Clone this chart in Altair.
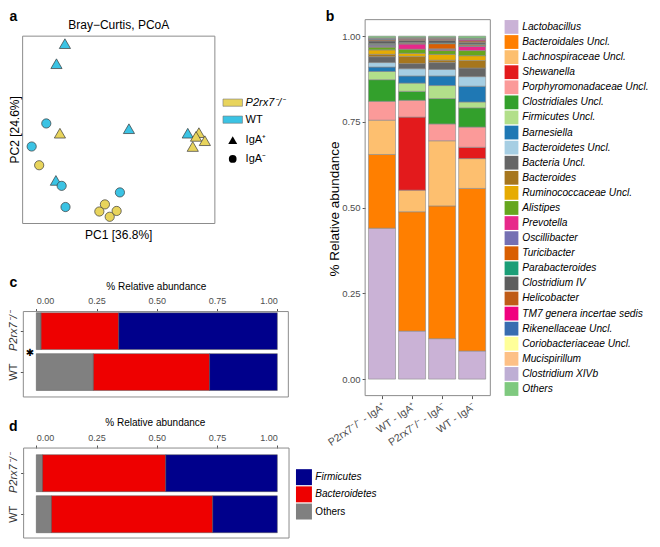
import altair as alt
import pandas as pd

# ---------------- data ----------------
# a: Bray-Curtis PCoA sample scores (rescaled to the panel extent, 0..1)
a_genotype = ["WT"] * 5 + ["P2rx7⁻/⁻"] * 5 + ["WT"] * 5 + ["P2rx7⁻/⁻"] * 5
a_fraction = ["IgA⁺"] * 10 + ["IgA⁻"] * 10
a_pc1 = [0.220, 0.176, 0.553, 0.859, 0.173,
         0.194, 0.917, 0.902, 0.948, 0.885,
         0.123, 0.047, 0.203, 0.223, 0.506,
         0.086, 0.428, 0.399, 0.489, 0.453]
a_pc2 = [0.960, 0.853, 0.506, 0.482, 0.230,
         0.482, 0.485, 0.465, 0.442, 0.411,
         0.534, 0.411, 0.201, 0.088, 0.166,
         0.311, 0.102, 0.064, 0.067, 0.036]
a_genotypes = ["P2rx7⁻/⁻", "WT"]
a_genotype_colors = ["#E8D45C", "#3BC3E4"]
a_fractions = ["IgA⁺", "IgA⁻"]

# b: genus-level relative abundance per group
b_groups = ["P2rx7⁻/⁻ - IgA⁺", "WT - IgA⁺", "P2rx7⁻/⁻ - IgA⁻", "WT - IgA⁻"]
b_taxa = ["Lactobacillus", "Bacteroidales Uncl.", "Lachnospiraceae Uncl.", "Shewanella",
          "Porphyromonadaceae Uncl.", "Clostridiales Uncl.", "Firmicutes Uncl.", "Barnesiella",
          "Bacteroidetes Uncl.", "Bacteria Uncl.", "Bacteroides", "Ruminococcaceae Uncl.",
          "Alistipes", "Prevotella", "Oscillibacter", "Turicibacter", "Parabacteroides",
          "Clostridium IV", "Helicobacter", "TM7 genera incertae sedis", "Rikenellaceae Uncl.",
          "Coriobacteriaceae Uncl.", "Mucispirillum", "Clostridium XIVb", "Others"]
b_colors = ["#CAB2D6", "#FF7F00", "#FDBF6F", "#E31A1C", "#FB9A99", "#33A02C", "#B2DF8A",
            "#1F78B4", "#A6CEE3", "#666666", "#A6761D", "#E6AB02", "#66A61E", "#E7298A",
            "#7570B3", "#D95F02", "#1B9E77", "#5E5E5E", "#BF5B17", "#F0027F", "#386CB0",
            "#FFFF99", "#FDC086", "#BEAED4", "#7FC97F"]
b_p2_pos = [0.440, 0.215, 0.100, 0.000, 0.055, 0.063, 0.024, 0.013, 0.013, 0.017, 0.007, 0.013,
            0.008, 0.002, 0.004, 0.002, 0.002, 0.008, 0.003, 0.001, 0.002, 0.001, 0.001, 0.001, 0.005]
b_wt_pos = [0.140, 0.348, 0.063, 0.213, 0.049, 0.026, 0.024, 0.021, 0.021, 0.015, 0.021, 0.009,
            0.012, 0.015, 0.002, 0.002, 0.001, 0.006, 0.003, 0.001, 0.001, 0.001, 0.001, 0.001, 0.004]
b_p2_neg = [0.118, 0.387, 0.190, 0.000, 0.049, 0.074, 0.038, 0.028, 0.019, 0.020, 0.007, 0.017,
            0.011, 0.003, 0.002, 0.015, 0.002, 0.008, 0.003, 0.001, 0.001, 0.001, 0.001, 0.001, 0.004]
b_wt_neg = [0.082, 0.474, 0.087, 0.033, 0.059, 0.056, 0.017, 0.046, 0.028, 0.025, 0.022, 0.014,
            0.015, 0.012, 0.002, 0.003, 0.002, 0.005, 0.004, 0.003, 0.002, 0.001, 0.001, 0.001, 0.006]
b_ticks = [0.0, 0.25, 0.5, 0.75, 1.0]

# c, d: phylum-level relative abundance
phyla = ["Others", "Bacteroidetes", "Firmicutes"]
phyla_colors = ["#808080", "#EE0000", "#00008B"]
phyla_legend = ["Firmicutes", "Bacteroidetes", "Others"]
cd_genotypes = ["P2rx7⁻/⁻", "WT"]
c_p2 = [0.020, 0.322, 0.658]
c_wt = [0.237, 0.482, 0.281]
d_p2 = [0.026, 0.511, 0.463]
d_wt = [0.063, 0.669, 0.268]
cd_ticks = [0.0, 0.25, 0.5, 0.75, 1.0]

# ---------------- layout helpers ----------------
FONT = "Liberation Sans"
W, H = 644, 531


def X(v):
    return round(v * W / 660, 2)


def Y(v):
    return round(v * H / 547, 2)


one = pd.DataFrame({"k": [0]})


def frame(x1, x2, y1, y2):
    return alt.Chart(one).mark_rect(fillOpacity=0, stroke="#8C8C8C", strokeWidth=1).encode(
        x=alt.value(X(x1)), x2=alt.value(X(x2)), y=alt.value(Y(y1)), y2=alt.value(Y(y2)))


def label(txt, x, y, size=11, weight="normal", angle=0, style="normal", font=FONT, color="black"):
    kw = dict(text=txt, fontSize=size, fontWeight=weight, fontStyle=style, align="center",
              baseline="middle", color=color, font=font)
    if angle:
        kw["angle"] = angle
    return alt.Chart(one).mark_text(**kw).encode(x=alt.value(X(x)), y=alt.value(Y(y)))


AX = dict(domain=False, grid=False, tickSize=3, tickColor="#555555", labelColor="#4D4D4D",
          labelFont=FONT, title=None, labelOverlap=False)

layers = []

# ---------------- panel a ----------------
df_a = pd.DataFrame({"genotype": a_genotype, "fraction": a_fraction, "pc1": a_pc1, "pc2": a_pc2})
layers.append(frame(15, 212, 29, 222))
layers.append(alt.Chart(df_a).mark_point(filled=True, opacity=1, stroke="#3A3A3A", strokeWidth=0.7).encode(
    x=alt.X("pc1:Q", scale=alt.Scale(domain=[0, 1], range=[X(15), X(212)], nice=False, zero=False), axis=None),
    y=alt.Y("pc2:Q", scale=alt.Scale(domain=[0, 1], range=[Y(222), Y(29)], nice=False, zero=False), axis=None),
    fill=alt.Fill("genotype:N", scale=alt.Scale(domain=a_genotypes, range=a_genotype_colors), legend=None),
    shape=alt.Shape("fraction:N", scale=alt.Scale(domain=a_fractions, range=["triangle-up", "circle"]), legend=None),
    size=alt.Size("fraction:N", scale=alt.Scale(domain=a_fractions, range=[125, 85]), legend=None),
))
layers.append(label("Bray−Curtis, PCoA", 113.5, 18, size=12))
layers.append(label("PC1 [36.8%]", 113.5, 234, size=12))
layers.append(label("PC2 [24.6%]", 7, 125.5, size=12, angle=270))
layers.append(label("a", 5.5, 9.5, size=14, weight="bold"))

# legend a
df_af = pd.DataFrame({"genotype": a_genotypes})
yfill = alt.Y("genotype:N", scale=alt.Scale(type="point", domain=a_genotypes, range=[Y(97.5), Y(115)], padding=0), axis=None)
layers.append(alt.Chart(df_af).mark_point(shape="M-1,-0.37L1,-0.37L1,0.37L-1,0.37Z", filled=True, size=380,
                                          opacity=1, stroke="#777777", strokeWidth=0.6).encode(
    x=alt.value(X(230.3)), y=yfill,
    fill=alt.Fill("genotype:N", scale=alt.Scale(domain=a_genotypes, range=a_genotype_colors), legend=None)))
layers.append(alt.Chart(df_af).transform_filter("datum.genotype != 'WT'").mark_text(
    align="left", baseline="middle", fontSize=11, fontStyle="italic", font=FONT).encode(
    x=alt.value(X(243.5)), y=yfill, text="genotype:N"))
layers.append(alt.Chart(df_af).transform_filter("datum.genotype == 'WT'").mark_text(
    align="left", baseline="middle", fontSize=11, font=FONT).encode(
    x=alt.value(X(243.5)), y=yfill, text="genotype:N"))
df_as = pd.DataFrame({"fraction": a_fractions})
yshape = alt.Y("fraction:N", scale=alt.Scale(type="point", domain=a_fractions, range=[Y(136), Y(155.5)], padding=0), axis=None)
layers.append(alt.Chart(df_as).mark_point(filled=True, opacity=1, color="black").encode(
    x=alt.value(X(230.3)), y=yshape,
    shape=alt.Shape("fraction:N", scale=alt.Scale(domain=a_fractions, range=["triangle-up", "circle"]), legend=None),
    size=alt.Size("fraction:N", scale=alt.Scale(domain=a_fractions, range=[80, 60]), legend=None)))
layers.append(alt.Chart(df_as).mark_text(align="left", baseline="middle", fontSize=11, font=FONT).encode(
    x=alt.value(X(243.5)), y=yshape, text="fraction:N"))

# ---------------- panel b ----------------
b_values = [b_p2_pos, b_wt_pos, b_p2_neg, b_wt_neg]
rows = []
for gi, g in enumerate(b_groups):
    for ti, t in enumerate(b_taxa):
        rows.append({"group": g, "taxon": t, "rank": ti, "value": b_values[gi][ti]})
df_b = pd.DataFrame(rows)
layers.append(frame(366, 494.3, 12, 399.3))
layers.append(alt.Chart(df_b).transform_filter("datum.value > 0").mark_bar(stroke="#8A8A8A", strokeWidth=0.6).encode(
    x=alt.X("group:N", scale=alt.Scale(type="band", domain=b_groups, range=[X(367.9), X(491.1)],
                                       paddingInner=0.1, paddingOuter=0.05),
            axis=alt.Axis(orient="bottom", offset=Y(399.3) - H, labelAngle=325, labelAlign="right",
                          labelBaseline="top", labelFontSize=10.5, labelPadding=2, **AX)),
    y=alt.Y("value:Q", stack="zero", scale=alt.Scale(domain=[0, 1], range=[Y(382.3), Y(29)], nice=False, zero=False),
            axis=alt.Axis(orient="left", offset=-X(366), values=b_ticks, format=".2f", labelFontSize=9.5,
                          labelPadding=2, **AX)),
    color=alt.Color("taxon:N", scale=alt.Scale(domain=b_taxa, range=b_colors), legend=None),
    order=alt.Order("rank:Q", sort="ascending"),
))
layers.append(label("% Relative abundance", 335, 207, size=13.5, angle=270))
layers.append(label("b", 330, 9.5, size=14, weight="bold"))

# legend b
df_bl = pd.DataFrame({"taxon": b_taxa})
ybl = alt.Y("taxon:N", scale=alt.Scale(type="point", domain=b_taxa, range=[Y(19.5), Y(392.5)], padding=0), axis=None)
layers.append(alt.Chart(df_bl).mark_square(size=190, opacity=1).encode(
    x=alt.value(X(516)), y=ybl,
    color=alt.Color("taxon:N", scale=alt.Scale(domain=b_taxa, range=b_colors), legend=None)))
layers.append(alt.Chart(df_bl).mark_text(align="left", baseline="middle", fontSize=10.2, fontStyle="italic",
                                         font=FONT).encode(x=alt.value(X(527)), y=ybl, text="taxon:N"))

# ---------------- panels c, d ----------------
geno_style = {"condition": {"test": "datum.value === 'WT'", "value": "normal"}, "value": "italic"}


def phylum_panel(p2, wt, fx1, fy1, band):
    rows = []
    for g, vals in zip(cd_genotypes, [p2, wt]):
        for i, (ph, v) in enumerate(zip(phyla, vals)):
            rows.append({"genotype": g, "phylum": ph, "rank": i, "value": v})
    df = pd.DataFrame(rows)
    return alt.Chart(df).mark_bar(stroke="#555555", strokeWidth=0.5).encode(
        x=alt.X("value:Q", stack="zero", scale=alt.Scale(domain=[0, 1], range=[X(29), X(276)], nice=False, zero=False),
                axis=alt.Axis(orient="top", offset=-Y(fy1), values=cd_ticks, format=".2f", labelFontSize=9,
                              labelPadding=3, **AX)),
        y=alt.Y("genotype:N", scale=alt.Scale(type="band", domain=cd_genotypes, range=[Y(band[0]), Y(band[1])],
                                              paddingInner=0.1, paddingOuter=0.05),
                axis=alt.Axis(orient="left", offset=-X(fx1), labelAngle=270, labelAlign="center",
                              labelBaseline="bottom", labelFontSize=11, labelPadding=2,
                              labelFontStyle=geno_style, **{**AX, "labelColor": "#333333"})),
        color=alt.Color("phylum:N", scale=alt.Scale(domain=phyla, range=phyla_colors), legend=None),
        order=alt.Order("rank:Q", sort="ascending"),
    )


layers.append(frame(15.7, 287.3, 312.7, 400.7))
layers.append(phylum_panel(c_p2, c_wt, 15.7, 312.7, (311.8, 396.1)))
layers.append(label("% Relative abundance", 152, 287, size=10))
layers.append(label("c", 5.5, 283.5, size=14, weight="bold"))
layers.append(label("✱", 22.5, 355.5, size=10, font="DejaVu Sans"))

layers.append(frame(16, 288, 453.3, 546))
layers.append(phylum_panel(d_p2, d_wt, 16, 453.3, (458.05, 542.65)))
layers.append(label("% Relative abundance", 151, 428, size=10))
layers.append(label("d", 5.5, 432, size=14, weight="bold"))

# legend d
df_dl = pd.DataFrame({"phylum": phyla_legend})
ydl = alt.Y("phylum:N", scale=alt.Scale(type="point", domain=phyla_legend, range=[Y(483.3), Y(518.7)], padding=0), axis=None)
layers.append(alt.Chart(df_dl).mark_square(size=255, opacity=1).encode(
    x=alt.value(X(303.3)), y=ydl,
    color=alt.Color("phylum:N", scale=alt.Scale(domain=phyla, range=phyla_colors), legend=None)))
layers.append(alt.Chart(df_dl).transform_filter("datum.phylum != 'Others'").mark_text(
    align="left", baseline="middle", fontSize=10, fontStyle="italic", font=FONT).encode(
    x=alt.value(X(315)), y=ydl, text="phylum:N"))
layers.append(alt.Chart(df_dl).transform_filter("datum.phylum == 'Others'").mark_text(
    align="left", baseline="middle", fontSize=10, font=FONT).encode(
    x=alt.value(X(315)), y=ydl, text="phylum:N"))

chart = alt.layer(*layers).resolve_scale(
    x="independent", y="independent", color="independent", fill="independent",
    shape="independent", size="independent",
).resolve_axis(x="independent", y="independent").properties(
    width=W, height=H, autosize=alt.AutoSizeParams(type="none"), padding=0,
).configure_view(stroke=None)

chart.save("out.html", embed_options={"renderer": "svg", "actions": False})
